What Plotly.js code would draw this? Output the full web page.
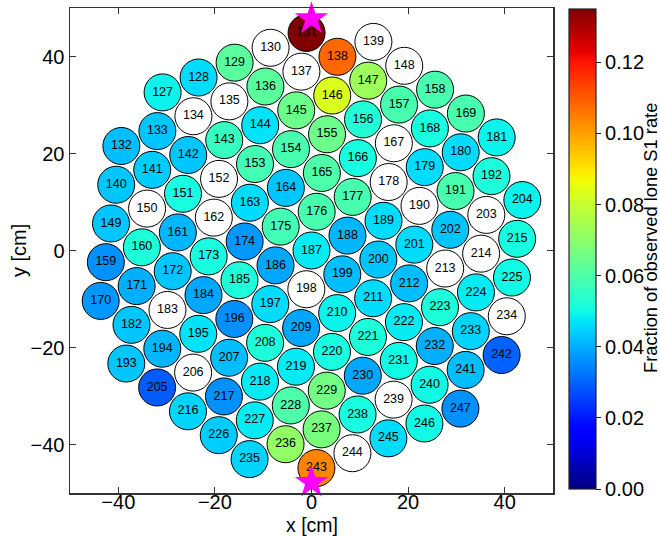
<!DOCTYPE html>
<html>
<head>
<meta charset="utf-8">
<script src="https://cdn.plot.ly/plotly-3.0.1.min.js"></script>
<style>html,body{margin:0;padding:0;background:#fff;}#chart{width:660px;height:537px;}</style>
</head>
<body>
<div id="chart"></div>
<script>
// PMT ids
const pmtIds = [127,128,129,130,131,132,133,134,135,136,137,138,139,140,141,142,143,144,145,146,147,148,
149,150,151,152,153,154,155,156,157,158,159,160,161,162,163,164,165,166,167,168,169,
170,171,172,173,174,175,176,177,178,179,180,181,182,183,184,185,186,187,188,189,190,191,192,
193,194,195,196,197,198,199,200,201,202,203,204,205,206,207,208,209,210,211,212,213,214,215,
216,217,218,219,220,221,222,223,224,225,226,227,228,229,230,231,232,233,234,
235,236,237,238,239,240,241,242,243,244,245,246,247];
// x positions [cm]
const pmtX = [-30.83,-23.38,-15.92,-8.47,-1.02,
-39.36,-31.91,-24.45,-17.00,-9.54,-2.09,5.37,12.82,
-40.43,-32.98,-25.52,-18.07,-10.62,-3.16,4.29,11.75,19.20,
-41.51,-34.05,-26.60,-19.14,-11.69,-4.24,3.22,10.67,18.13,25.58,
-42.58,-35.12,-27.67,-20.22,-12.76,-5.31,2.15,9.60,17.05,24.51,31.96,
-43.65,-36.20,-28.74,-21.29,-13.84,-6.38,1.07,8.53,15.98,23.44,30.89,38.34,
-37.27,-29.82,-22.36,-14.91,-7.45,0.00,7.45,14.91,22.36,29.82,37.27,
-38.34,-30.89,-23.44,-15.98,-8.53,-1.07,6.38,13.84,21.29,28.74,36.20,43.65,
-31.96,-24.51,-17.05,-9.60,-2.15,5.31,12.76,20.22,27.67,35.12,42.58,
-25.58,-18.13,-10.67,-3.22,4.24,11.69,19.14,26.60,34.05,41.51,
-19.20,-11.75,-4.29,3.16,10.62,18.07,25.52,32.98,40.43,
-12.82,-5.37,2.09,9.54,17.00,24.45,31.91,39.36,
1.02,8.47,15.92,23.38,30.83];
// y positions [cm]
const pmtY = [32.60,35.67,38.73,41.80,44.86,
21.55,24.62,27.68,30.75,33.81,36.88,39.94,43.01,
13.56,16.63,19.69,22.76,25.82,28.89,31.95,35.02,38.08,
5.57,8.64,11.70,14.77,17.83,20.90,23.96,27.03,30.09,33.16,
-2.41,0.65,3.72,6.78,9.85,12.91,15.98,19.04,22.11,25.17,28.24,
-10.40,-7.34,-4.27,-1.21,1.86,4.92,7.99,11.05,14.12,17.18,20.25,23.31,
-15.33,-12.26,-9.20,-6.13,-3.07,0.00,3.07,6.13,9.20,12.26,15.33,
-23.31,-20.25,-17.18,-14.12,-11.05,-7.99,-4.92,-1.86,1.21,4.27,7.34,10.40,
-28.24,-25.17,-22.11,-19.04,-15.98,-12.91,-9.85,-6.78,-3.72,-0.65,2.41,
-33.16,-30.09,-27.03,-23.96,-20.90,-17.83,-14.77,-11.70,-8.64,-5.57,
-38.08,-35.02,-31.95,-28.89,-25.82,-22.76,-19.69,-16.63,-13.56,
-43.01,-39.94,-36.88,-33.81,-30.75,-27.68,-24.62,-21.55,
-44.86,-41.80,-38.73,-35.67,-32.60];
// fraction of observed lone S1 rate (null = no value, drawn white)
const loneS1 = [0.049,0.046,0.062,null,0.135,
0.042,0.043,null,null,0.062,null,0.108,null,
0.043,0.044,0.043,0.056,0.047,0.065,0.083,0.073,null,
0.043,null,0.051,null,0.058,0.059,0.065,0.053,0.059,0.059,
0.036,0.052,0.041,null,0.046,0.043,0.060,0.051,null,0.051,0.059,
0.037,0.040,0.043,0.051,0.037,0.058,0.059,0.059,null,0.046,0.046,0.049,
0.043,null,0.039,0.052,0.039,0.048,0.041,0.046,null,0.059,0.052,
0.043,0.041,0.047,0.036,0.046,null,0.042,0.043,0.046,0.043,null,0.049,
0.029,null,0.042,0.052,0.039,0.049,0.046,0.042,null,null,0.051,
0.045,0.036,0.048,0.048,0.051,0.052,0.048,0.052,0.048,0.050,
0.044,0.048,0.060,0.066,0.039,0.050,0.040,0.045,null,
0.045,0.071,0.067,0.051,null,0.050,0.042,0.030,
0.104,null,0.046,0.050,0.036];
// marked positions (stars)
const starX = [0, 0];
const starY = [47.8, -47.8];
const colorMin = 0, colorMax = 0.135;
const cbTicks = [0,0.02,0.04,0.06,0.08,0.10,0.12];
const cbTickText = ['0.00','0.02','0.04','0.06','0.08','0.10','0.12'];
const axisTicks = [-40,-20,0,20,40];

// matplotlib-like jet colorscale
function seg(pts, t){
  for (let i=1;i<pts.length;i++){
    if (t<=pts[i][0]){
      const [x0,y0]=pts[i-1],[x1,y1]=pts[i];
      return y0+(y1-y0)*(t-x0)/(x1-x0);
    }
  }
  return pts[pts.length-1][1];
}
const R=[[0,0],[0.35,0],[0.66,1],[0.89,1],[1,0.5]];
const G=[[0,0],[0.125,0],[0.375,1],[0.64,1],[0.91,0],[1,0]];
const B=[[0,0.5],[0.11,1],[0.34,1],[0.65,0],[1,0]];
const jet=[];
for(let i=0;i<=100;i++){const t=i/100;
  jet.push([t,`rgb(${Math.round(255*seg(R,t))},${Math.round(255*seg(G,t))},${Math.round(255*seg(B,t))})`]);}

const cx=[],cy=[],cv=[],ct=[],wx=[],wy=[],wt=[];
pmtIds.forEach((id,i)=>{
  if(loneS1[i]===null){wx.push(pmtX[i]);wy.push(pmtY[i]);wt.push(String(id));}
  else {cx.push(pmtX[i]);cy.push(pmtY[i]);cv.push(loneS1[i]);ct.push(String(id));}
});

const FONT='"Liberation Sans", Arial, Helvetica, sans-serif';
const markerSize=37;
const traces=[
 {type:'scatter',mode:'markers+text',x:wx,y:wy,text:wt,textposition:'middle center',
  textfont:{family:FONT,size:12.5,color:'#000'},
  marker:{size:markerSize,color:'#ffffff',line:{color:'#000',width:1}},hoverinfo:'text',showlegend:false,cliponaxis:false},
 {type:'scatter',mode:'markers+text',x:cx,y:cy,text:ct,textposition:'middle center',
  textfont:{family:FONT,size:12.5,color:'#000'},
  marker:{size:markerSize,color:cv,cmin:colorMin,cmax:colorMax,colorscale:jet,showscale:true,
   line:{color:'#000',width:1},
   colorbar:{x:1.033,xanchor:'left',y:(493-249)/485,yanchor:'middle',thickness:27,len:480,lenmode:'pixels',
    xpad:0,ypad:0,outlinewidth:1.2,outlinecolor:'#222',ticks:'outside',ticklen:5,tickcolor:'#222',
    tickvals:cbTicks,ticktext:cbTickText,
    tickfont:{family:FONT,size:20,color:'#000'}}},
  hoverinfo:'text',showlegend:false,cliponaxis:false},
 {type:'scatter',mode:'markers',x:starX,y:starY,xaxis:'x2',
  marker:{symbol:'star',size:25,color:'#ff00ff',line:{width:0}},showlegend:false,hoverinfo:'skip',cliponaxis:false}
];
const axisCommon={range:[-50,50],tickvals:axisTicks,ticks:'inside',ticklen:6,tickwidth:1,tickcolor:'#333',
 showline:true,linecolor:'#333',linewidth:1.5,mirror:'ticks',showgrid:false,zeroline:false,
 tickfont:{family:FONT,size:20,color:'#000'}};
const layout={width:660,height:537,margin:{l:70,r:107,t:8,b:44,autoexpand:false},paper_bgcolor:'#fff',plot_bgcolor:'#fff',
 font:{family:FONT,color:'#000'},
 xaxis:Object.assign({},axisCommon,{showticklabels:false}),
 // tick labels of the x axis, drawn slightly closer to the frame
 xaxis2:{overlaying:'x',matches:'x',anchor:'free',position:5/485,side:'bottom',range:[-50,50],tickvals:axisTicks,
   ticks:'',showline:false,showgrid:false,zeroline:false,tickfont:{family:FONT,size:20,color:'#000'}},
 yaxis:Object.assign({},axisCommon),
 annotations:[
  {text:'Fraction of observed lone S1 rate',textangle:-90,xref:'paper',yref:'paper',
   x:(650-70)/483,y:(493-238)/485,xanchor:'center',yanchor:'middle',showarrow:false,
   font:{family:FONT,size:18.3,color:'#000'}},
  {text:'x [cm]',xref:'paper',yref:'paper',x:0.5,y:(493-525)/485,xanchor:'center',yanchor:'middle',
   showarrow:false,font:{family:FONT,size:19.5,color:'#000'}},
  {text:'y [cm]',textangle:-90,xref:'paper',yref:'paper',x:(19-70)/483,y:(493-251)/485,xanchor:'center',yanchor:'middle',
   showarrow:false,font:{family:FONT,size:20,color:'#000'}}],
 showlegend:false};
Plotly.newPlot('chart',traces,layout,{displayModeBar:false,staticPlot:true});
</script>
</body>
</html>
